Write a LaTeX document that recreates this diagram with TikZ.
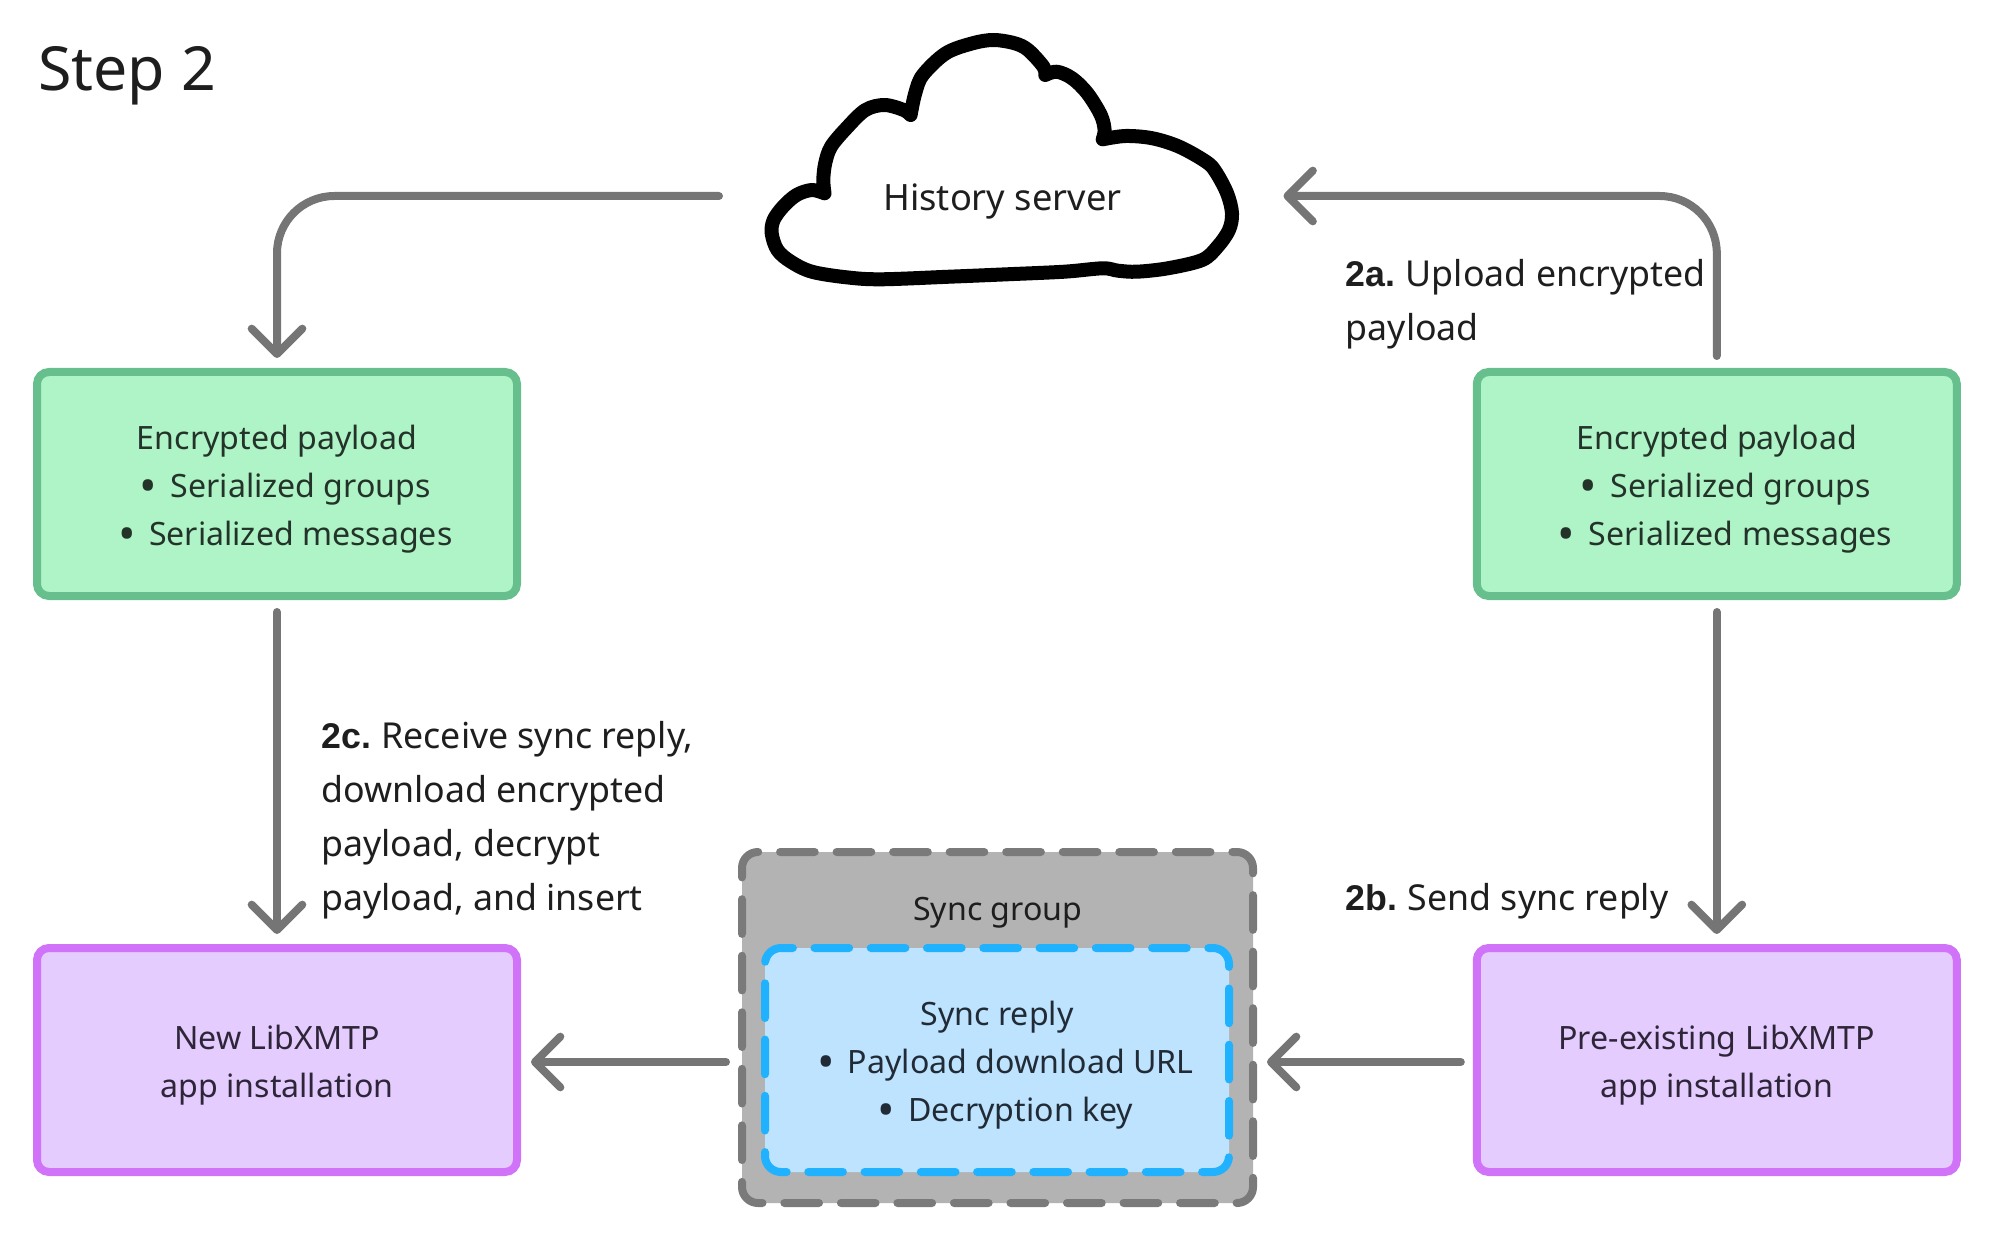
\documentclass[tikz,border=0pt]{standalone}
\usepackage{fontspec}
\setmainfont{Noto Sans}
\newfontfamily\stepfont{Liberation Sans}
\usetikzlibrary{arrows.meta}
\definecolor{flowgray}{HTML}{757575}
\definecolor{greenfill}{HTML}{AFF4C6}
\definecolor{greenline}{HTML}{66BF8C}
\definecolor{greentext}{HTML}{24332A}
\definecolor{purplefill}{HTML}{E4CCFF}
\definecolor{purpleline}{HTML}{D073F8}
\definecolor{purpletext}{HTML}{2E2638}
\definecolor{grayfill}{HTML}{B3B3B3}
\definecolor{grayline}{HTML}{7A7A7A}
\definecolor{bluefill}{HTML}{BDE3FF}
\definecolor{blueline}{HTML}{20B2FF}
\definecolor{bluetext}{HTML}{212B36}
\definecolor{inktext}{HTML}{1E1E1E}
\newcommand{\boxfont}{\fontsize{24.1}{36}\selectfont}
\newcommand{\notefont}{\fontsize{26.8}{40.5}\selectfont}
\newcommand{\dotitem}{\hspace*{12.5pt}\raisebox{-4pt}{\fontsize{35}{36}\selectfont •}\hspace{10pt}}
\newcommand{\boxlift}{\rule{0pt}{26pt}}
\newcommand{\stepmark}[1]{{\stepfont\bfseries #1}\hspace{-1.5pt}}
\tikzset{
  flow/.style={draw=flowgray,line width=6pt,line cap=round,rounded corners=43pt,shorten <=9pt,shorten >=7.5pt,
    -{Straight Barb[length=19pt,width=38pt,line cap=round,line join=round]}},
  solidbox/.style={line width=6pt,rounded corners=9pt,minimum width=360pt,minimum height=168pt,align=center,font=\boxfont,inner sep=0pt},
  greenbox/.style={solidbox,draw=greenline,fill=greenfill,text=greentext},
  purplebox/.style={solidbox,draw=purpleline,fill=purplefill,text=purpletext},
  note/.style={anchor=west,align=left,font=\notefont,text=inktext,inner sep=0pt},
}
\begin{document}
\begin{tikzpicture}[x=0.75pt,y=0.75pt,yscale=-1,xscale=1]
\useasboundingbox (0,0) rectangle (1992,1237);

%Shape: Cloud
\draw [line width=10.5pt,line cap=round,line join=round]
  plot [smooth,tension=0.55] coordinates {(824.5,193.3) (811.8,190) (796.5,195) (783.1,206.7) (773.6,220) (771.7,233.3) (777.4,250) (790.8,261.7) (811.8,271.7) (846.3,277.3) (880.7,279.3) (949.6,276.7) (1007,274.3) (1064.4,271.7) (1102.7,268.3) (1118,270.7) (1137.1,271.7) (1167.8,268.3) (1202.2,260) (1217.5,246.7) (1229,230) (1232,213.3) (1227.1,193.3) (1215.6,171.7) (1206,161.7) (1179.2,146.7) (1152.5,138.3) (1125.7,136) (1102.7,139.3)}
  plot [smooth,tension=0.55] coordinates {(1102.7,139.3) (1104.6,130) (1100.8,115) (1087.4,93.3) (1072.1,78.3) (1056.8,71.7) (1045.3,75)}
  plot [smooth,tension=0.55] coordinates {(1045.3,75) (1043.4,66.7) (1028.1,50) (1014.7,43.3) (993.6,40) (972.6,43.3) (945.8,53.3) (922.8,75) (915.2,93.3) (910.6,115)}
  plot [smooth,tension=0.55] coordinates {(910.6,115) (903.7,110) (884.6,105) (865.4,110) (846.3,128.3) (831,146.7) (825.2,163.3) (823.3,180) (824.5,193.3)};
\coordinate (cloudL) at (731,196);
\coordinate (cloudR) at (1273.5,196);

%Rounded Rect
\node [greenbox] (greenL) at (277,484) {\boxlift Encrypted payload\\\dotitem Serialized groups\\\dotitem Serialized messages};
%Rounded Rect
\node [greenbox] (greenR) at (1716.8,484) {\boxlift Encrypted payload\\\dotitem Serialized groups\\\dotitem Serialized messages};
%Rounded Rect
\node [purplebox] (purpleL) at (277,1060) {\boxlift New LibXMTP\\app installation};
%Rounded Rect
\node [purplebox] (purpleR) at (1716.8,1060) {\boxlift Pre-existing LibXMTP\\app installation};
%Rounded Rect
\node [draw=grayline,fill=grayfill,line width=6pt,rounded corners=12pt,line cap=round,minimum width=383.25pt,minimum height=263.25pt,dash pattern=on 26pt off 16.4pt,dash phase=22.5pt] (syncgroup) at (997.5,1027.5) {};
%Rounded Rect
\node [draw=blueline,fill=bluefill,line width=6pt,rounded corners=12pt,line cap=round,minimum width=348pt,minimum height=168pt,dash pattern=on 26pt off 16.2pt,dash phase=22.5pt,align=center,font=\boxfont,text=bluetext,inner sep=0pt] (syncreply) at (997,1060) {\boxlift Sync reply\\\dotitem Payload download URL\\\dotitem Decryption key};
\coordinate (replyin) at ([yshift=1.5pt]purpleR.west);
\coordinate (replyout) at ([yshift=1.5pt]purpleL.east);

%Straight Lines
\draw [flow] (cloudL) -| (greenL.north);
%Straight Lines
\draw [flow] (greenR.north) |- (cloudR);
%Straight Lines
\draw [flow] (greenL.south) -- (purpleL.north);
%Straight Lines
\draw [flow] (greenR.south) -- (purpleR.north);
%Straight Lines
\draw [flow] (replyin) -- (syncgroup.east |- replyin);
%Straight Lines
\draw [flow] (syncgroup.west |- replyout) -- (replyout);

% Text Node
\node [anchor=west,inner sep=0pt,font=\fontsize{45.6}{54}\selectfont,text=inktext] (title) at (38,76) {Step 2};
% Text Node
\node [inner sep=0pt,font=\fontsize{27.2}{36}\selectfont,text=inktext] (history) at (1002.4,201) {History server};
% Text Node
\node [inner sep=0pt,font=\boxfont,text=inktext] (groupname) at (997.7,913) {Sync group};
% Text Node
\node [note] (stepa) at (1345.5,304) {\stepmark{2a.} Upload encrypted\\payload};
% Text Node
\node [note] (stepb) at (1345.5,901.5) {\stepmark{2b.} Send sync reply};
% Text Node
\node [note] (stepc) at (321,820) {\stepmark{2c.} Receive sync reply,\\download encrypted\\payload, decrypt\\payload, and insert};
\end{tikzpicture}
\end{document}
